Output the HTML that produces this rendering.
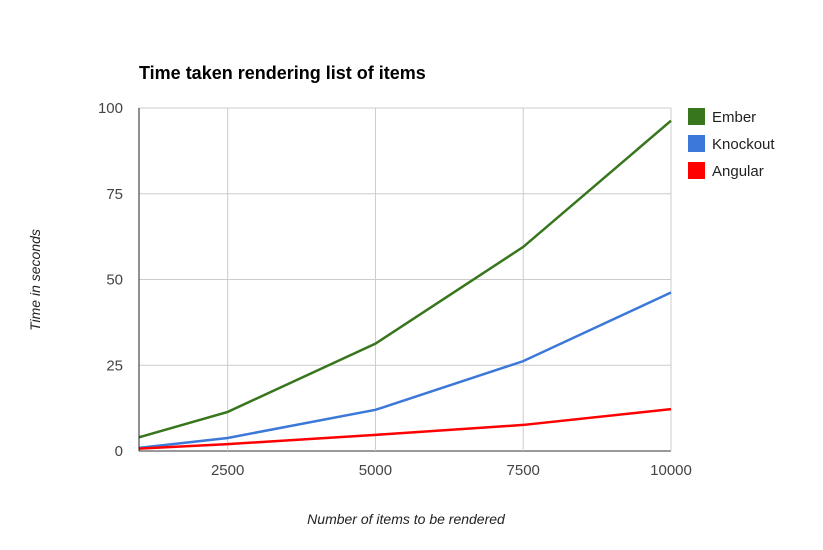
<!DOCTYPE html>
<html><head><meta charset="utf-8"><style>
body{margin:0;background:#fff;width:823px;height:545px;overflow:hidden}
svg text{font-family:"Liberation Sans",Arial,sans-serif}
</style></head><body>
<svg id="chart" width="823" height="545">
<text x="139" y="79" font-size="18" font-weight="bold" fill="#000">Time taken rendering list of items</text>
<g id="grid"></g><g id="series"></g><g id="axes"></g>
<text x="406" y="524" font-size="14" font-style="italic" text-anchor="middle" fill="#222">Number of items to be rendered</text>
<text transform="translate(40,280) rotate(-90)" font-size="14" font-style="italic" text-anchor="middle" fill="#222">Time in seconds</text>
<g id="legend"></g>
</svg>
<script>
const xValues=[1000,2500,5000,7500,10000];
const emberValues=[4,11.4,31.3,59.5,96.3];
const knockoutValues=[0.9,3.8,12,26.2,46.2];
const angularValues=[0.7,2,4.7,7.6,12.2];
const seriesNames=['Ember','Knockout','Angular'];
const xTicks=[2500,5000,7500,10000];
const yTicks=[0,25,50,75,100];
const NS='http://www.w3.org/2000/svg';
const L=139,R=671,T=108,B=451;
const sx=v=>L+(v-1000)/9000*(R-L);
const sy=v=>B-v/100*(B-T);
function mk(tag,attrs,parent,txt){const e=document.createElementNS(NS,tag);for(const k in attrs)e.setAttribute(k,attrs[k]);if(txt!==undefined)e.textContent=txt;document.getElementById(parent).appendChild(e);return e;}
yTicks.forEach(t=>{
 const l=mk('line',{x1:L,x2:R,y1:sy(t),y2:sy(t),stroke:t===0?'#333':'#ccc','stroke-width':1},'grid');
 
 
 const tx=mk('text',{x:L-16,y:sy(t)+5,'font-size':15,'text-anchor':'end',fill:'#444'},'axes',t);
 
 
});
xTicks.forEach(t=>{
 const l=mk('line',{x1:sx(t),x2:sx(t),y1:T,y2:B,stroke:'#ccc','stroke-width':1},'grid');
 
 
 const tx=mk('text',{x:sx(t),y:B+24,'font-size':15,'text-anchor':'middle',fill:'#444'},'axes',t);
 
 
});
const ax=mk('line',{x1:L,x2:L,y1:T,y2:B,stroke:'#222','stroke-width':1},'axes');


const allSeries=[emberValues,knockoutValues,angularValues];
const colors=['#38761d','#3c78d8','#ff0000'];
allSeries.forEach((vals,i)=>{
 const p=mk('polyline',{points:vals.map((v,j)=>sx(xValues[j])+','+sy(v)).join(' '),fill:'none',stroke:colors[i],'stroke-width':2.5},'series');
 
 
 const r=mk('rect',{x:688,y:108+i*27,width:17,height:17,fill:colors[i]},'legend');
 
 
 const t=mk('text',{x:712,y:122+i*27,'font-size':15,fill:'#222'},'legend',seriesNames[i]);
 
 
});
</script>
</body></html>
